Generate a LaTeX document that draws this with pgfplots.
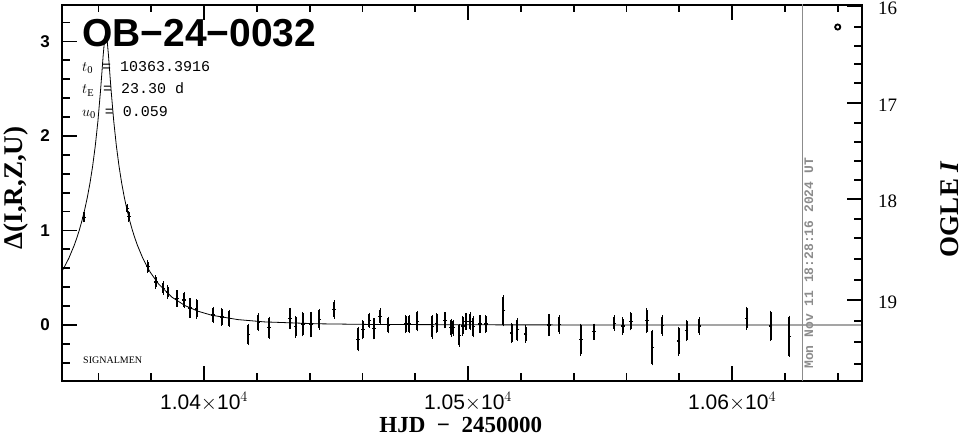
\documentclass[border=0pt]{standalone}
\usepackage{fontspec}
\setmainfont{Liberation Serif}
\newfontfamily\lsans{Liberation Sans}
\newfontfamily\lserif{Liberation Serif}
\newfontfamily\lmono{Liberation Mono}
\usepackage{pgfplots}
\pgfplotsset{compat=1.18}
\definecolor{dategray}{RGB}{140,140,140}

\pgfplotstableread{
t d e
10354.5 1.14 0.040
10371.0 1.23 0.035
10371.5 1.15 0.045
10378.7 0.617 0.053
10381.7 0.455 0.056
10384.6 0.39 0.056
10386.2 0.35 0.056
10389.7 0.28 0.074
10392.5 0.265 0.070
10394.7 0.18 0.088
10397.2 0.17 0.090
10403.5 0.106 0.072
10406.7 0.085 0.080
10409.6 0.07 0.076
10416.8 -0.10 0.097
10420.6 0.03 0.080
10424.7 -0.03 0.105
10432.6 0.07 0.095
10434.7 -0.02 0.100
10437.4 0.01 0.115
10440.5 0.005 0.120
10443.7 0.06 0.095
10449.3 0.164 0.083
10458.4 -0.15 0.115
10460.1 -0.05 0.088
10462.6 0.05 0.066
10464.4 -0.04 0.097
10466.7 0.09 0.070
10469.8 0.00 0.074
10476.4 0.01 0.080
10477.8 0.01 0.080
10480.8 0.04 0.094
10486.5 -0.02 0.110
10488.1 0.02 0.092
10491.3 0.05 0.070
10493.6 -0.03 0.080
10494.4 -0.03 0.070
10496.7 -0.11 0.106
10498.0 -0.01 0.090
10499.2 0.04 0.074
10500.8 0.04 0.080
10502.0 -0.02 0.097
10504.5 0.01 0.080
10506.7 0.01 0.080
10513.4 0.15 0.150
10516.5 -0.085 0.092
10518.7 -0.05 0.106
10521.8 -0.095 0.076
10530.7 0.00 0.102
10534.6 0.005 0.083
10542.7 -0.155 0.155
10547.7 -0.07 0.070
10555.4 0.02 0.067
10558.6 -0.01 0.076
10561.6 0.04 0.083
10567.7 0.045 0.115
10569.8 -0.24 0.173
10573.6 -0.005 0.093
10579.7 -0.17 0.138
10582.8 -0.06 0.097
10587.6 -0.01 0.076
10605.5 0.07 0.106
10614.6 -0.01 0.147
10621.7 -0.12 0.203
}\obsdata

\pgfplotstableread{
t d
10345.8 0.551
10346.8 0.598
10348.8 0.707
10350.8 0.841
10351.8 0.920
10352.8 1.008
10353.8 1.108
10354.8 1.221
10355.8 1.351
10356.8 1.502
10357.8 1.680
10358.8 1.894
10359.8 2.156
10360.8 2.482
10361.3 2.667
10361.8 2.855
10362.3 3.011
10362.55 3.058
10362.8 3.074
10363.05 3.058
10363.3 3.011
10363.8 2.855
10364.3 2.667
10364.8 2.482
10365.8 2.156
10366.8 1.894
10367.8 1.680
10368.8 1.502
10369.8 1.351
10370.8 1.221
10371.8 1.108
10372.8 1.008
10373.8 0.920
10374.8 0.841
10376.8 0.707
10378.8 0.598
10379.8 0.551
10382.8 0.433
10387.8 0.295
10392.8 0.205
10397.8 0.145
10402.8 0.104
10412.8 0.057
10422.8 0.033
10442.8 0.0128
10462.8 0.0058
10512.8 0.0013
10562.8 0.0005
10652.8 0.0002
}\modeldata

\begin{document}
\begin{tikzpicture}
\useasboundingbox (-62pt,-57pt) rectangle (903pt,381pt);
\begin{axis}[
  at={(0pt,0pt)}, anchor=south west,
  scale only axis, width=800pt, height=376pt,
  xmin=10346.2, xmax=10649.2, ymin=-0.5926, ymax=3.386,
  scaled x ticks=false, scaled y ticks=false,
  xtick={10400,10500,10600},
  xticklabels={1.04$\times$10$^{4}$,1.05$\times$10$^{4}$,1.06$\times$10$^{4}$},
  minor xtick={10360,10380,...,10640},
  ytick={0,1,2,3}, yticklabels={0,1,2,3},
  minor ytick={-0.4,-0.2,0.2,0.4,0.6,0.8,1.2,1.4,1.6,1.8,2.2,2.4,2.6,2.8,3.2},
  ytick pos=left, xtick pos=both,
  tick align=inside,
  major tick length=15pt, minor tick length=7.5pt,
  every tick/.style={black, line width=1.8pt},
  axis line style={line width=2.2pt},
  xticklabel style={font=\lsans\fontsize{21}{24}\selectfont, inner sep=0pt, anchor=north, yshift=-11pt},
  yticklabel style={font=\lsans\bfseries\fontsize{17}{20}\selectfont, inner sep=0pt, anchor=east, xshift=-12pt},
]
\addplot[black, line width=0.8pt, no markers] table[x=t, y=d] {\modeldata};
\addplot[black, only marks, mark=-, mark size=1.8pt, mark options={line width=1.2pt},
  error bars/.cd, y dir=both, y explicit,
  error bar style={line width=2pt},
  error mark options={mark size=1.4pt, line width=1.3pt}]
  table[x=t, y=d, y error=e] {\obsdata};
\addplot[dategray, line width=1pt, no markers] coordinates {(10626.8,-0.6) (10626.8,3.4)};
\addplot[black, only marks, mark=o, mark size=2.6pt, mark options={line width=1.8pt}] coordinates {(10640,3.153)};
\end{axis}
\begin{axis}[
  at={(0pt,0pt)}, anchor=south west,
  scale only axis, width=800pt, height=376pt,
  xmin=10346.2, xmax=10649.2, ymin=-0.5926, ymax=3.386,
  hide x axis,
  ytick pos=right, yticklabel pos=right,
  ytick={3.376,2.349,1.333,0.265}, yticklabels={16,17,18,19},
  minor ytick={3.153,2.952,2.762,2.561,2.138,1.937,1.735,1.534,1.122,0.921,0.698,0.476,0.042,-0.180,-0.413},
  tick align=inside,
  major tick length=15pt, minor tick length=8pt,
  every tick/.style={black, line width=1.8pt},
  axis line style={line width=2.2pt},
  yticklabel style={font=\lserif\fontsize{19}{21}\selectfont, inner sep=0pt, anchor=west, xshift=16pt, yshift=-2.5pt},
]
\end{axis}
% text annotations (positions in pt relative to the axis box)
\node[anchor=base west, inner sep=0pt, font=\lsans\bfseries\fontsize{39}{41}\selectfont] at (20pt,334pt) {OB−24−0032};
\node[anchor=base west, inner sep=0pt, font=\lmono\fontsize{15}{17}\selectfont] at (20pt,309.3pt) {$t_{\rm 0}$ = 10363.3916};
\node[anchor=base west, inner sep=0pt, font=\lmono\fontsize{15}{17}\selectfont] at (20pt,287pt) {$t_{\rm E}$ = 23.30 d};
\node[anchor=base west, inner sep=0pt, font=\lmono\fontsize{15}{17}\selectfont] at (20pt,264.3pt) {$u_{\rm 0}$ = 0.059};
\node[anchor=base west, inner sep=0pt, font=\lserif\fontsize{10}{12}\selectfont] at (21pt,17.7pt) {SIGNALMEN};
\node[anchor=base west, inner sep=0pt, rotate=90, text=dategray, font=\lmono\bfseries\fontsize{13}{15}\selectfont] at (751pt,12pt) {Mon Nov 11 18:28:16 2024 UT};
\node[anchor=center, inner sep=0pt, rotate=90, font=\lserif\bfseries\fontsize{27}{30}\selectfont] at (-46pt,193pt) {Δ(I,R,Z,U)};
\node[anchor=center, inner sep=0pt, rotate=90, font=\lserif\bfseries\fontsize{27}{30}\selectfont] at (888pt,172pt) {OGLE \textit{I}};
\node[anchor=base, inner sep=0pt, font=\lserif\bfseries\fontsize{23}{25}\selectfont] at (398.7pt,-52pt) {HJD \ − \ 2450000};
\end{tikzpicture}
\end{document}
